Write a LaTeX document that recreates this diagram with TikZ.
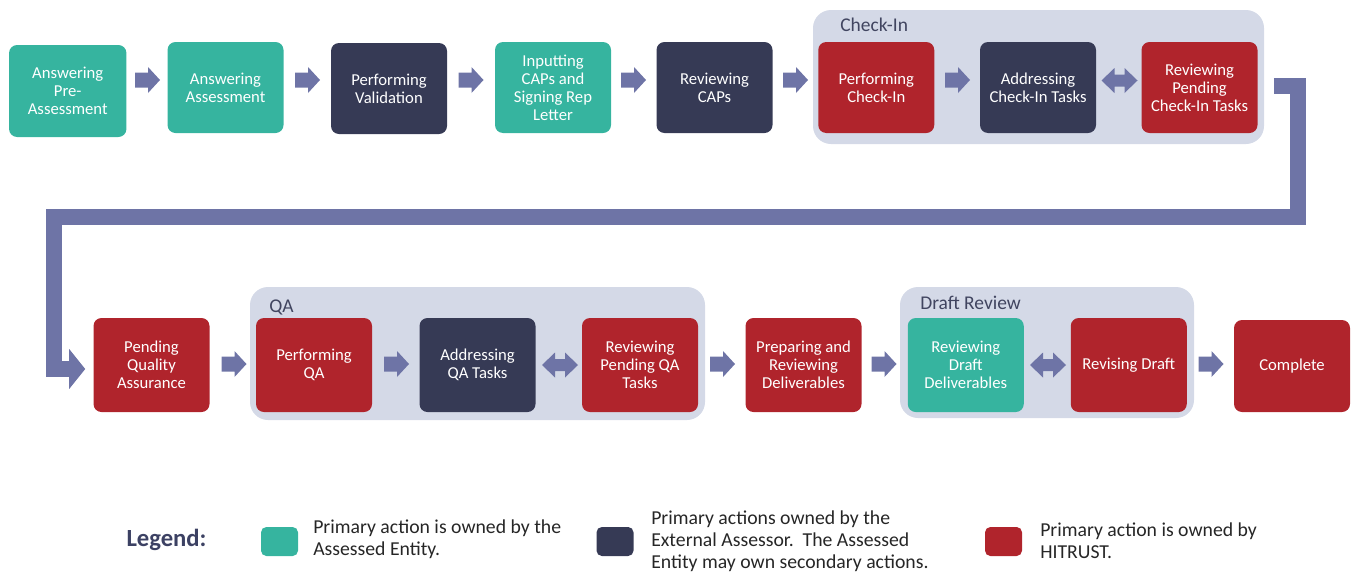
\documentclass[tikz,border=0pt]{standalone}
\usepackage{fontspec}
\setmainfont{Carlito}
\usetikzlibrary{arrows.meta,calc}
\definecolor{tealc}{HTML}{36B49F}
\definecolor{navyc}{HTML}{363A55}
\definecolor{redc}{HTML}{B0242C}
\definecolor{grpc}{HTML}{D4D9E7}
\definecolor{arrowc}{HTML}{6E74A6}
\definecolor{lblc}{HTML}{414560}
\definecolor{legc}{HTML}{3C4163}
\definecolor{txtc}{HTML}{262626}
\tikzset{
  stepbox/.style={rounded corners=6pt, minimum width=87pt, minimum height=68.25pt,
    text=white, align=center, font=\fontsize{12.5}{13.6}\selectfont, inner sep=0pt},
  ae/.style={stepbox, fill=tealc},
  ea/.style={stepbox, fill=navyc},
  hi/.style={stepbox, fill=redc},
  lowbox/.style={minimum height=70.5pt},
  grpbox/.style={fill=grpc, rounded corners=13.5pt},
  grplabel/.style={font=\fontsize{14.6}{16}\selectfont, text=lblc, anchor=west, inner sep=0pt},
  rblock/.pic={\fill[arrowc] (-12.5,-7.5) -- ++(13,0) -- ++(0,-5.5) -- ++(12,13)
      -- ++(-12,13) -- ++(0,-5.5) -- ++(-13,0) -- cycle;},
  dblock/.pic={\fill[arrowc] (-18,0) -- ++(13,-12.5) -- ++(0,6.5) -- ++(10,0) -- ++(0,-6.5)
      -- ++(13,12.5) -- ++(-13,12.5) -- ++(0,-6.5) -- ++(-10,0) -- ++(0,6.5) -- cycle;},
  conn/.style={draw=arrowc, line width=12pt, line join=miter,
    -{Triangle[length=12pt,width=29.25pt]}},
  swatch/.style={rounded corners=4pt, minimum width=27.75pt, minimum height=21.75pt, inner sep=0pt},
  legtext/.style={anchor=west, align=left, inner sep=0pt, text=txtc,
    font=\fontsize{14.8}{16.3}\selectfont},
}
\begin{document}
\begin{tikzpicture}[x=0.75pt,y=-0.75pt]
\useasboundingbox (0,0) rectangle (1351,575);
% groups
\fill[grpbox] (813,10) rectangle (1264,144);
\fill[grpbox] (250,287) rectangle (705,420);
\fill[grpbox] (900,287) rectangle (1194,418);
\node[grplabel] (gci) at (840,25) {Check-In};
\node[grplabel] (gqa) at (269,307) {QA};
\node[grplabel] (gdr) at (920,303) {Draft Review};
% top row
\node[ae, minimum width=88pt, minimum height=69pt] (b1) at (67.75,91) {Answering\\Pre-\\Assessment};
\node[ae] (b2) at (225.5,87.5) {Answering\\Assessment};
\node[ea] (b3) at (389,88.5) {Performing\\Validation};
\node[ae] (b4) at (553,87.5) {Inputting\\CAPs and\\Signing Rep\\Letter};
\node[ea] (b5) at (714.5,87.5) {Reviewing\\CAPs};
\node[hi] (b6) at (876.25,87.5) {Performing\\Check-In};
\node[ea] (b7) at (1038,87.5) {Addressing\\Check-In Tasks};
\node[hi] (b8) at (1199.5,87.5) {Reviewing\\Pending\\Check-In Tasks};
% top arrows
\pic at (147.5,80) {rblock};
\pic at (307.5,80) {rblock};
\pic at (471,80) {rblock};
\pic at (633.5,80) {rblock};
\pic at (795.5,80) {rblock};
\pic at (957.5,80) {rblock};
\pic at (1119.5,80.5) {dblock};
% bottom row
\node[hi, lowbox] (p1) at (151.5,365) {Pending\\Quality\\Assurance};
\node[hi, lowbox] (p2) at (314,365) {Performing\\QA};
\node[ea, lowbox] (p3) at (477.5,365) {Addressing\\QA Tasks};
\node[hi, lowbox] (p4) at (640,365) {Reviewing\\Pending QA\\Tasks};
\node[hi, lowbox] (p5) at (803.5,365) {Preparing and\\Reviewing\\Deliverables};
\node[ae, lowbox] (p6) at (965.75,365) {Reviewing\\Draft\\Deliverables};
\node[hi, lowbox] (p7) at (1128.75,365) {Revising Draft};
\node[hi, minimum height=69pt] (p8) at (1292,366) {Complete};
% bottom arrows
\pic at (234,364) {rblock};
\pic at (396.5,364) {rblock};
\pic at (560,365) {dblock};
\pic at (722.5,364) {rblock};
\pic at (884,364) {rblock};
\pic at (1048,365) {dblock};
\pic at (1211,364) {rblock};
% connector from top row to bottom row
\draw[conn] ($(b8.east)+(16,-2)$) -- ++(24,0) -- ++(0,131.5) -| ($(p1.west)+(-39.5,4)$) -- ($(p1.west)+(-8,4)$);
% legend
\node[font=\fontsize{18.5}{20}\selectfont\bfseries, text=legc, inner sep=0pt] (leg) at (166.5,540) {Legend:};
\node[swatch, fill=tealc] (s1) at (279.5,541.5) {};
\node[legtext] (t1) at (313,539) {Primary action is owned by the\\Assessed Entity.};
\node[swatch, fill=navyc] (s2) at (615,541.5) {};
\node[legtext] (t2) at (651,541) {Primary actions owned by the\\External Assessor.\ \ The Assessed\\Entity may own secondary actions.};
\node[swatch, fill=redc] (s3) at (1003.5,541.5) {};
\node[legtext] (t3) at (1040,541) {Primary action is owned by\\HITRUST.};
\end{tikzpicture}
\end{document}
